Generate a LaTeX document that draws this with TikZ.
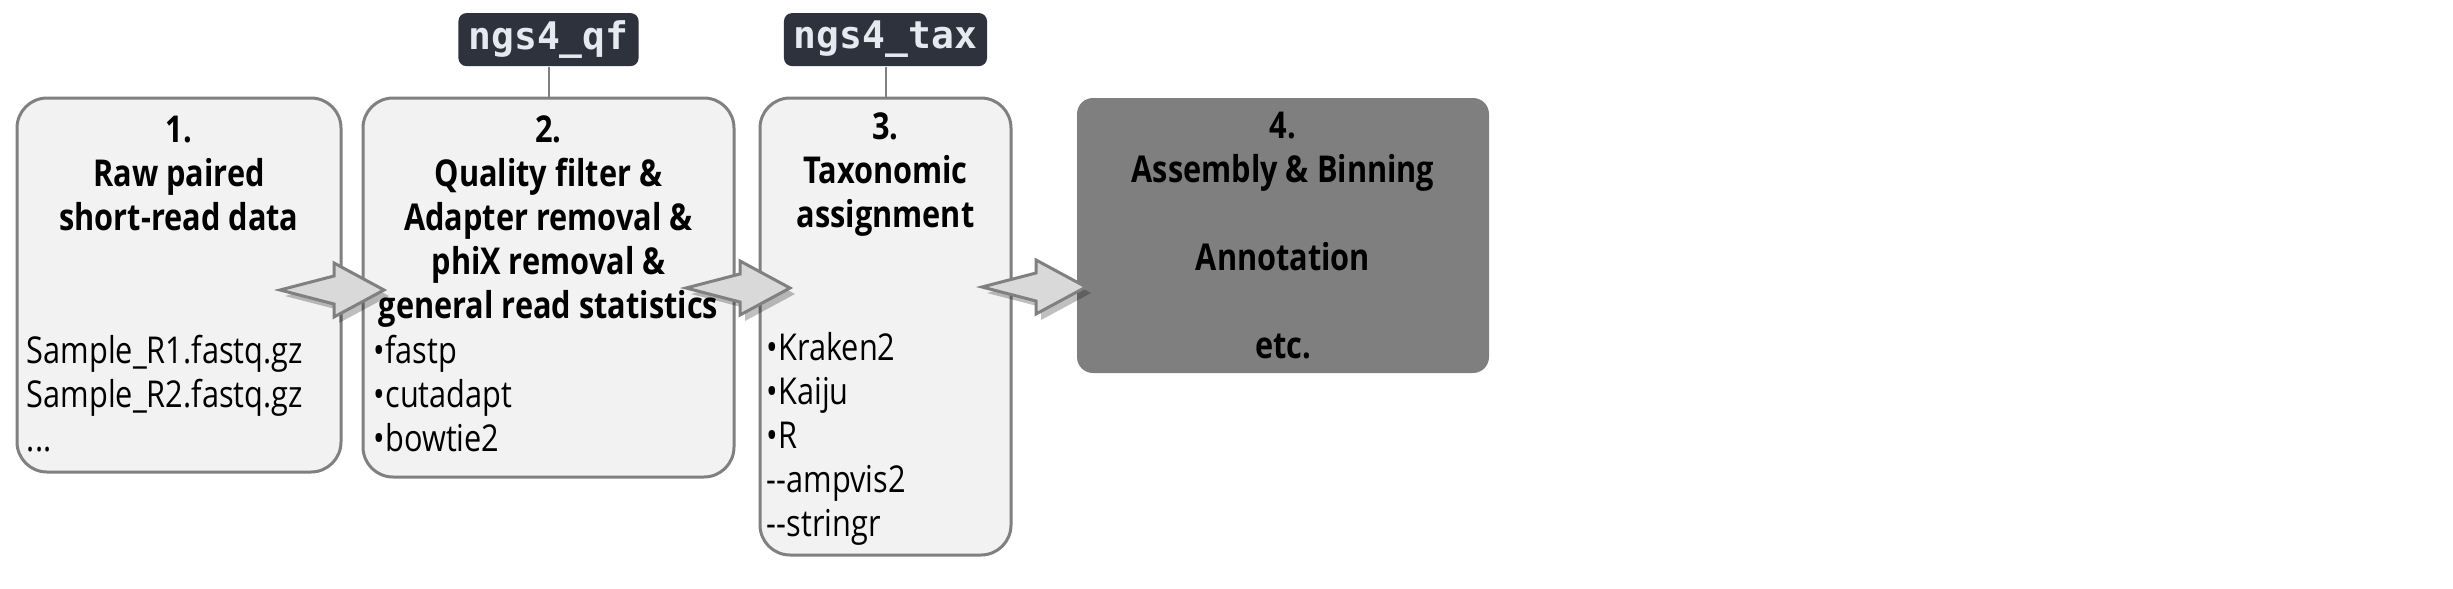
\documentclass[tikz,border=0pt]{standalone}
\usepackage{fontspec}
\setmainfont{Open Sans}[FakeStretch=0.83]
\newfontfamily\tagfont{DejaVu Sans Mono}
\usetikzlibrary{positioning}

\definecolor{boxfill}{HTML}{F2F2F2}
\definecolor{boxline}{HTML}{808080}
\definecolor{darkbox}{HTML}{7F7F7F}
\definecolor{arrfill}{HTML}{D9D9D9}
\definecolor{tagfill}{HTML}{2E323C}
\definecolor{tagtext}{HTML}{E6E9F0}

\begin{document}
\begin{tikzpicture}[x=0.5pt, y=-0.5pt,
  stage/.style={draw=boxline, line width=1.5pt, fill=boxfill, rounded corners=15pt, inner sep=0pt},
  heading/.style={font=\fontsize{18.5pt}{22pt}\selectfont\bfseries, align=center, inner sep=0pt},
  items/.style={font=\fontsize{18.5pt}{22pt}\selectfont, align=left, inner sep=0pt, anchor=north west},
  envtag/.style={fill=tagfill, text=tagtext, rounded corners=4pt, inner xsep=5pt,
    minimum height=26.5pt, font=\tagfont\bfseries\fontsize{19pt}{22pt}\selectfont},
  flowarrow/.pic={
    \fill[black, opacity=0.25] (5,6) -- (59,-8) -- (59,-21) -- (109,6) -- (59,33) -- (59,20) -- cycle;
    \draw[boxline, line width=1.5pt, fill=arrfill] (0,0) -- (54,-14) -- (54,-27) -- (104,0) -- (54,27) -- (54,14) -- cycle;
  }]
  \useasboundingbox (0,0) rectangle (2453,589);

  % stages
  \node[stage, minimum width=162pt, minimum height=187pt] (b1) at (179,285) {};
  \node[stage, minimum width=185.5pt, minimum height=189.5pt] (b2) at (548.5,287.5) {};
  \node[stage, minimum width=125.5pt, minimum height=228.5pt] (b3) at (885.5,326.5) {};
  \node[stage, draw=none, fill=darkbox, rounded corners=8pt,
    minimum width=206pt, minimum height=137.5pt] (b4) at (1283,235.5) {};

  \node[heading, below=9.5pt of b1.north] (t1) {1.\\Raw paired\\short-read data};
  \node[heading, below=9.5pt of b2.north] (t2) {2.\\Quality filter \&\\Adapter removal \&\\phiX removal \&\\general read statistics};
  \node[heading, below=8pt of b3.north] (t3) {3.\\Taxonomic\\assignment};
  \node[heading, below=7.5pt of b4.north] (t4) {4.\\Assembly \& Binning\\\\Annotation\\\\etc.};

  \node[items] (l1) at ([shift={(11,238)}]b1.north west) {Sample\_R1.fastq.gz\\Sample\_R2.fastq.gz\\...};
  \node[items] (l2) at ([shift={(12,238)}]b2.north west) {•fastp\\•cutadapt\\•bowtie2};
  \node[items] (l3) at ([shift={(8,235)}]b3.north west) {•Kraken2\\•Kaiju\\•R\\-\kern0pt-ampvis2\\-\kern0pt-stringr};

  % environments
  \node[envtag, above=15pt of b2] (qf) {ngs4\_qf};
  \node[envtag, above=15pt of b3] (tax) {ngs4\_tax};
  \draw[boxline, line width=1pt] (qf) -- (b2);
  \draw[boxline, line width=1pt] (tax) -- (b3);

  % flow between stages
  \coordinate (a1) at (280,290);
  \coordinate (a2) at (686,288);
  \coordinate (a3) at (982,287);
  \pic at (a1) {flowarrow};
  \pic at (a2) {flowarrow};
  \pic at (a3) {flowarrow};
\end{tikzpicture}
\end{document}
